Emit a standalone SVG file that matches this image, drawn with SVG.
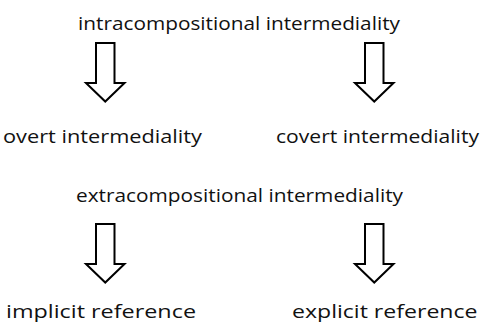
<svg xmlns="http://www.w3.org/2000/svg" xmlns:xlink="http://www.w3.org/1999/xlink" width="480" height="323" viewBox="0 0 480 323">
<style>
text{font-family:"Open Sans","Liberation Sans",sans-serif;font-size:17.5px;fill:#111;}
.arr{fill:#fff;stroke:#000;stroke-width:2;stroke-linejoin:miter;}
</style>
<defs>
<path id="dn" class="arr" d="M0,0 H18.5 V40 H28.5 L9.25,58.5 L-10,40 H0 Z"/>
</defs>
<rect width="480" height="323" fill="#fff"/>
<g id="intra"><text x="78" y="30" textLength="322" lengthAdjust="spacingAndGlyphs">intracompositional intermediality</text></g>
<g id="overt"><text x="3" y="142.5" textLength="199" lengthAdjust="spacingAndGlyphs">overt intermediality</text></g>
<g id="covert"><text x="276" y="142.5" textLength="203" lengthAdjust="spacingAndGlyphs">covert intermediality</text></g>
<g id="extra"><text x="76" y="202" textLength="327" lengthAdjust="spacingAndGlyphs">extracompositional intermediality</text></g>
<g id="implicit"><text x="6" y="318" textLength="190" lengthAdjust="spacingAndGlyphs">implicit reference</text></g>
<g id="explicit"><text x="292" y="318" textLength="185.5" lengthAdjust="spacingAndGlyphs">explicit reference</text></g>
<g id="connectors">
<use xlink:href="#dn" transform="translate(96,43)"/>
<use xlink:href="#dn" transform="translate(365,43)"/>
<use xlink:href="#dn" transform="translate(96,224)"/>
<use xlink:href="#dn" transform="translate(365,224)"/>
</g>
</svg>
